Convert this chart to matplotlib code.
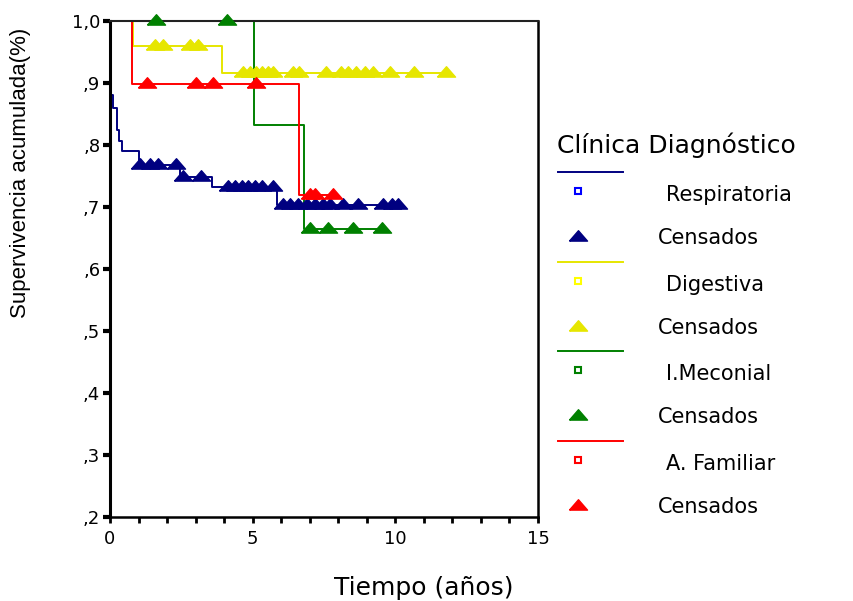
import numpy as np
import matplotlib
matplotlib.use("Agg")
import matplotlib.pyplot as plt
from matplotlib.ticker import MultipleLocator

# Kaplan-Meier curves: event times (years) and survival after each event
resp_times = [0.0, 0.12, 0.23, 0.32, 0.41, 1.02, 2.45, 3.56, 5.85]
resp_surv = [0.881, 0.860, 0.824, 0.806, 0.791, 0.768, 0.749, 0.733, 0.703]
resp_cens = [1.05, 1.40, 1.68, 2.31, 2.56, 3.19, 4.14, 4.38, 4.63, 4.84, 5.08, 5.33,
             5.71, 6.06, 6.31, 6.59, 6.90, 7.19, 7.47, 7.71, 8.17, 8.69, 9.57, 9.88, 10.09]

dig_times = [0.82, 3.93]
dig_surv = [0.960, 0.916]
dig_cens = [1.58, 1.86, 2.80, 3.08, 4.66, 4.91, 5.12, 5.33, 5.54, 5.71, 6.41, 6.62,
            7.57, 8.10, 8.34, 8.62, 8.94, 9.22, 9.81, 10.66, 11.78]

mec_times = [5.05, 6.80]
mec_surv = [0.832, 0.665]
mec_cens = [1.61, 4.10, 7.01, 7.64, 8.52, 9.53]

fam_times = [0.76, 6.61]
fam_surv = [0.898, 0.719]
fam_cens = [1.29, 3.00, 3.60, 5.12, 7.01, 7.19, 7.80]

group_names = ["Respiratoria", "Digestiva", "I.Meconial", "A. Familiar"]
line_colors = ["#000080", "#e6e600", "#008000", "#ff0000"]
square_colors = ["#0000ff", "#ffff00", "#008000", "#ff0000"]

y_ticks = [0.2, 0.3, 0.4, 0.5, 0.6, 0.7, 0.8, 0.9, 1.0]
y_ticklabels = [",2", ",3", ",4", ",5", ",6", ",7", ",8", ",9", "1,0"]
x_ticks = [0, 5, 10, 15]

# flattened triangle used for censored cases
tri = [(-1, -0.4), (1, -0.4), (0, 0.75), (-1, -0.4)]

W, H = 854, 601
fig = plt.figure(figsize=(W / 100, H / 100), dpi=100)
ax = fig.add_axes([110 / W, 1 - 517 / H, (538 - 110) / W, (517 - 21) / H])


def surv_at(t, times, surv):
    idx = np.searchsorted(times, t, side="right") - 1
    return 1.0 if idx < 0 else surv[idx]


groups = [(resp_times, resp_surv, resp_cens),
          (dig_times, dig_surv, dig_cens),
          (mec_times, mec_surv, mec_cens),
          (fam_times, fam_surv, fam_cens)]

for (times, surv, cens), col in zip(groups, line_colors):
    end = max(cens)
    xs = [0] + list(times) + [end]
    ys = [1.0] + list(surv) + [surv[-1]]
    ax.step(xs, ys, where="post", color=col, lw=1.4, zorder=2)
    cy = [surv_at(t, times, surv) for t in cens]
    ax.plot(cens, cy, ls="none", marker=tri, ms=13, color=col, mec=col,
            zorder=3, clip_on=False)

ax.set_xlim(0, 15)
ax.set_ylim(0.2, 1.0)
ax.set_xticks(x_ticks)
ax.xaxis.set_minor_locator(MultipleLocator(1))
ax.set_yticks(y_ticks)
ax.set_yticklabels(y_ticklabels)

for lbl in ax.get_xticklabels() + ax.get_yticklabels():
    lbl.set_family("DejaVu Sans")
    lbl.set_fontsize(13)

ax.tick_params(axis="y", direction="out", length=5, width=3, pad=2)
ax.tick_params(axis="x", which="both", direction="out", length=4, width=2, pad=5)

ax.spines["left"].set_linewidth(2.2)
ax.spines["bottom"].set_linewidth(1.8)
ax.spines["right"].set_linewidth(1.8)
ax.spines["top"].set_linewidth(1.5)
ax.spines["top"].set_color("#222222")

fig.text(21 / W, 1 - 173 / H, "Supervivencia acumulada(%)", rotation=90,
         ha="center", va="center", family="Liberation Sans", fontsize=16)
fig.text(424 / W, 1 - 595 / H, "Tiempo (años)", ha="center", va="baseline",
         family="DejaVu Sans", fontsize=18)

# legend drawn in pixel coordinates on an overlay axes
lg = fig.add_axes([0, 0, 1, 1])
lg.set_xlim(0, W)
lg.set_ylim(H, 0)
lg.axis("off")
lg.text(557, 153, "Clínica Diagnóstico", ha="left", va="baseline",
        family="DejaVu Sans", fontsize=18)

for i, (name, lc, sc) in enumerate(zip(group_names, line_colors, square_colors)):
    y0 = 172 + i * 89.7
    lg.plot([558, 623], [y0, y0], color=lc, lw=1.4)
    lg.plot([578], [y0 + 19], ls="none", marker="s", ms=5, mfc="none", mec=sc, mew=1.5)
    lg.text(666, y0 + 23, name, ha="left", va="center", family="DejaVu Sans", fontsize=15)
    lg.plot([578], [y0 + 65], ls="none", marker=tri, ms=13, color=lc)
    lg.text(658, y0 + 66, "Censados", ha="left", va="center", family="DejaVu Sans", fontsize=15)

fig.savefig("out.png", dpi=100)
